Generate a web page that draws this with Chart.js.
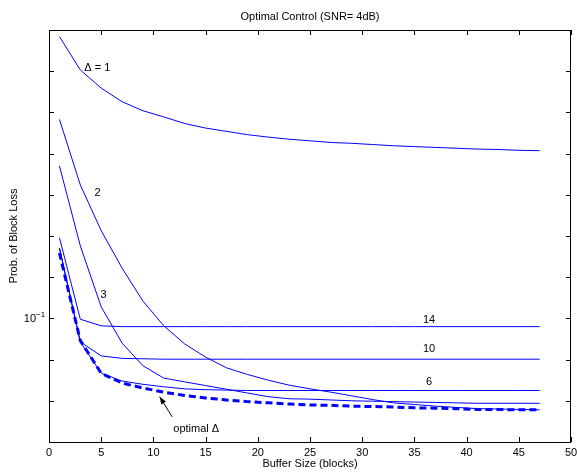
<!DOCTYPE html>
<html>
<head>
<meta charset="utf-8">
<script src="https://cdn.jsdelivr.net/npm/chart.js@4.4.0/dist/chart.umd.min.js"></script>
<style>
  html, body { margin: 0; padding: 0; background: #fff; }
</style>
</head>
<body>
<canvas id="lossChart" width="577" height="472"></canvas>
<script>
// buffer sizes (blocks) where each curve is sampled
const bufferSizes = [1, 3, 5, 7, 9, 11, 13, 15, 17, 19, 21, 23, 25, 27, 29, 31, 33, 35, 37, 39, 41, 43, 45, 47];

// prob. of block loss for each fixed delta
const delta1 = [0.1684, 0.1603, 0.1559, 0.1526, 0.1504, 0.1489, 0.1473, 0.1462, 0.1454, 0.1446, 0.1440, 0.1435,
                0.1431, 0.1427, 0.1425, 0.1422, 0.1419, 0.1417, 0.1415, 0.1413, 0.1411, 0.1410, 0.1408, 0.1407];
const delta2 = [0.1483, 0.1324, 0.1213, 0.1122, 0.1042, 0.0982, 0.0938, 0.0906, 0.0880, 0.0864, 0.0850, 0.0838,
                0.0829, 0.0821, 0.0812, 0.0803, 0.0795, 0.0791, 0.0787, 0.0784, 0.0781, 0.0780, 0.0779, 0.0778];
const delta3 = [0.1370, 0.1176, 0.1028, 0.0940, 0.0885, 0.0855, 0.0846, 0.0837, 0.0828, 0.0819, 0.0810, 0.0805,
                0.0804, 0.0802, 0.0800, 0.0799, 0.0798, 0.0797, 0.0796, 0.0795, 0.0794, 0.0794, 0.0794, 0.0794];
const delta6 = [0.1171, 0.0943, 0.0867, 0.0848, 0.0840, 0.0834, 0.0829, 0.0827, 0.0826, 0.0825, 0.0825, 0.0825,
                0.0825, 0.0825, 0.0825, 0.0825, 0.0825, 0.0825, 0.0825, 0.0825, 0.0825, 0.0825, 0.0825, 0.0825];
const delta10 = [0.1171, 0.0943, 0.0909, 0.0903, 0.0902, 0.0901, 0.0901, 0.0901, 0.0901, 0.0901, 0.0901, 0.0901,
                 0.0901, 0.0901, 0.0901, 0.0901, 0.0901, 0.0901, 0.0901, 0.0901, 0.0901, 0.0901, 0.0901, 0.0901];
const delta14 = [0.1196, 0.0998, 0.0982, 0.0980, 0.0980, 0.0980, 0.0980, 0.0980, 0.0980, 0.0980, 0.0980, 0.0980,
                 0.0980, 0.0980, 0.0980, 0.0980, 0.0980, 0.0980, 0.0980, 0.0980, 0.0980, 0.0980, 0.0980, 0.0980];
const optimalDelta = [0.1159, 0.0946, 0.0867, 0.0843, 0.0831, 0.0821, 0.0813, 0.0807, 0.0802, 0.0798, 0.0795, 0.0792,
                      0.0790, 0.0789, 0.0787, 0.0786, 0.0785, 0.0783, 0.0782, 0.0781, 0.0779, 0.0779, 0.0778, 0.0778];

// axis ticks
const xTicks = [0, 5, 10, 15, 20, 25, 30, 35, 40, 45, 50];
const yTicks = [0.07, 0.08, 0.09, 0.10, 0.11, 0.12, 0.13, 0.14, 0.15, 0.16, 0.17];

const FONT = '"Liberation Sans", Arial, Helvetica, sans-serif';
const BLUE = '#0000ff';

function toPoints(values) {
    return bufferSizes.map((x, i) => ({ x: x, y: values[i] }));
}

function solid(values) {
    return {
        data: toPoints(values),
        borderColor: BLUE,
        borderWidth: 1,
        pointRadius: 0,
        tension: 0,
        fill: false
    };
}

const datasets = [
    solid(delta1), solid(delta2), solid(delta3),
    solid(delta6), solid(delta10), solid(delta14),
    {
        data: toPoints(optimalDelta),
        borderColor: BLUE,
        borderWidth: 3,
        borderDash: [7, 4],
        pointRadius: 0,
        tension: 0,
        fill: false
    }
];

// frame, inward ticks, title, labels and curve annotations (matlab style)
const decorations = {
    id: 'decorations',
    afterDraw(chart) {
        const { ctx, chartArea: area, scales } = chart;
        const xs = scales.x, ys = scales.y;
        ctx.save();

        ctx.strokeStyle = '#000';
        ctx.lineWidth = 1;
        ctx.strokeRect(Math.round(area.left) + 0.5, Math.round(area.top) + 0.5,
                       Math.round(area.right - area.left) - 1, Math.round(area.bottom - area.top));

        const tick = 5;
        ctx.beginPath();
        xTicks.forEach(v => {
            const px = Math.round(xs.getPixelForValue(v)) + 0.5;
            ctx.moveTo(px, area.bottom); ctx.lineTo(px, area.bottom - tick);
            ctx.moveTo(px, area.top); ctx.lineTo(px, area.top + tick);
        });
        yTicks.forEach(v => {
            const py = Math.round(ys.getPixelForValue(v)) + 0.5;
            ctx.moveTo(area.left, py); ctx.lineTo(area.left + tick, py);
            ctx.moveTo(area.right, py); ctx.lineTo(area.right - tick, py);
        });
        ctx.stroke();

        ctx.fillStyle = '#000';

        // 10^-1 label
        const y01 = ys.getPixelForValue(0.1);
        ctx.font = '11px ' + FONT;
        ctx.textBaseline = 'middle';
        ctx.textAlign = 'right';
        ctx.fillText('10', area.left - 13, y01 + 1);
        ctx.font = '8px ' + FONT;
        ctx.textAlign = 'left';
        ctx.fillText('\u22121', area.left - 13, y01 - 4);

        // title and axis titles
        const midX = (area.left + area.right) / 2;
        ctx.font = '11px ' + FONT;
        ctx.textAlign = 'center';
        ctx.fillText('Optimal Control (SNR= 4dB)', midX, 17);
        ctx.fillText('Buffer Size (blocks)', midX, 464);
        ctx.save();
        ctx.translate(14, (area.top + area.bottom) / 2);
        ctx.rotate(-Math.PI / 2);
        ctx.fillText('Prob. of Block Loss', 0, 0);
        ctx.restore();

        // curve annotations
        const notes = [
            ['\u0394 = 1', 4.63, 0.1608],
            ['2', 4.66, 0.1304],
            ['3', 5.23, 0.1057],
            ['14', 36.4, 0.0996],
            ['10', 36.4, 0.0925],
            ['6', 36.4, 0.0846],
            ['optimal \u0394', 14.1, 0.0732]
        ];
        notes.forEach(([text, x, y]) => {
            ctx.fillText(text, xs.getPixelForValue(x), ys.getPixelForValue(y));
        });

        // arrow pointing at the optimal curve
        const tx = xs.getPixelForValue(11.8), ty = ys.getPixelForValue(0.0761);
        const hx = xs.getPixelForValue(10.6), hy = ys.getPixelForValue(0.0810);
        ctx.beginPath();
        ctx.moveTo(tx, ty); ctx.lineTo(hx, hy);
        ctx.stroke();
        const ang = Math.atan2(hy - ty, hx - tx);
        ctx.beginPath();
        ctx.moveTo(hx, hy);
        ctx.lineTo(hx - 8 * Math.cos(ang - 0.35), hy - 8 * Math.sin(ang - 0.35));
        ctx.lineTo(hx - 8 * Math.cos(ang + 0.35), hy - 8 * Math.sin(ang + 0.35));
        ctx.closePath();
        ctx.fill();

        ctx.restore();
    }
};

const ctx = document.getElementById('lossChart').getContext('2d');
new Chart(ctx, {
    type: 'line',
    data: { datasets: datasets },
    options: {
        responsive: false,
        animation: false,
        devicePixelRatio: 1,
        layout: { padding: { left: 0, right: 0, top: 30, bottom: 0 } },
        plugins: { legend: { display: false }, tooltip: { enabled: false } },
        scales: {
            x: {
                type: 'linear',
                min: 0,
                max: 50,
                grid: { display: false, drawTicks: false },
                border: { display: false },
                ticks: {
                    stepSize: 5,
                    autoSkip: false,
                    maxRotation: 0,
                    padding: 4,
                    color: '#000',
                    font: { family: FONT, size: 11 }
                },
                afterFit: scale => {
                    scale.height = 30;
                    scale.paddingLeft = 0;
                    scale.paddingRight = 6;
                }
            },
            y: {
                type: 'linear',
                min: 0.07,
                max: 0.17,
                grid: { display: false, drawTicks: false },
                border: { display: false },
                ticks: { display: false, stepSize: 0.01 },
                afterFit: scale => { scale.width = 49; }
            }
        }
    },
    plugins: [decorations]
});
</script>
</body>
</html>
